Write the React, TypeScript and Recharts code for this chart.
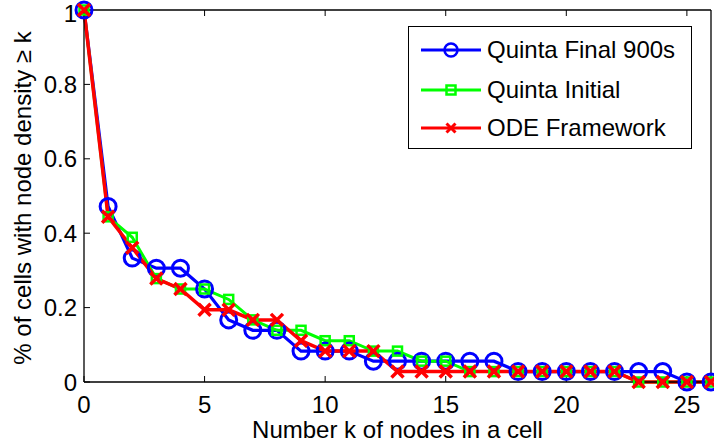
import React from 'react';
import { LineChart, Line, XAxis, YAxis, Legend, Label } from 'recharts';

const font = '"Liberation Sans", Arial, Helvetica, sans-serif';

// k values on the x axis
const kValues = [0, 1, 2, 3, 4, 5, 6, 7, 8, 9, 10, 11, 12, 13, 14, 15, 16, 17, 18, 19, 20, 21, 22, 23, 24, 25, 26];

const quintaFinal = [1, 0.472, 0.333, 0.306, 0.306, 0.25, 0.167, 0.139, 0.139, 0.083, 0.083, 0.083, 0.056, 0.056, 0.056, 0.056, 0.056, 0.056, 0.028, 0.028, 0.028, 0.028, 0.028, 0.028, 0.028, 0, 0];
const quintaInitial = [1, 0.444, 0.389, 0.278, 0.25, 0.25, 0.222, 0.167, 0.139, 0.139, 0.111, 0.111, 0.083, 0.083, 0.056, 0.056, 0.028, 0.028, 0.028, 0.028, 0.028, 0.028, 0.028, 0, 0, 0, 0];
const odeFramework = [1, 0.444, 0.361, 0.278, 0.25, 0.194, 0.194, 0.167, 0.167, 0.111, 0.083, 0.083, 0.083, 0.028, 0.028, 0.028, 0.028, 0.028, 0.028, 0.028, 0.028, 0.028, 0.028, 0, 0, 0, 0];

const xTicks = [0, 5, 10, 15, 20, 25];
const yTicks = [0, 0.2, 0.4, 0.6, 0.8, 1];

const seriesNames = ['Quinta Final 900s', 'Quinta Initial', 'ODE Framework'];
const BLUE = '#0000ff';
const GREEN = '#00ff00';
const RED = '#ff0000';

const rows = kValues.map((k, i) => ({
  k,
  final: quintaFinal[i],
  initial: quintaInitial[i],
  ode: odeFramework[i],
}));

const circleDot = (r: number, sw: number) => (p: any) => (
  <circle key={`c${p.index}`} cx={p.cx} cy={p.cy} r={r} fill="none" stroke={BLUE} strokeWidth={sw} />
);
const squareDot = (h: number, sw: number) => (p: any) => (
  <rect key={`s${p.index}`} x={p.cx - h} y={p.cy - h} width={h * 2} height={h * 2} fill="none" stroke={GREEN} strokeWidth={sw} />
);
const crossDot = (h: number, sw: number) => (p: any) => (
  <path key={`x${p.index}`} d={`M${p.cx - h},${p.cy - h}L${p.cx + h},${p.cy + h}M${p.cx - h},${p.cy + h}L${p.cx + h},${p.cy - h}`} stroke={RED} strokeWidth={sw} fill="none" />
);

const YLabel = (props: any) => {
  const vb = props.viewBox;
  const cx = 22;
  const cy = vb.y + vb.height / 2 + 2;
  return (
    <text x={cx} y={cy} transform={`rotate(-90, ${cx}, ${cy})`} textAnchor="middle" dominantBaseline="central" fontSize={24} fontFamily={font} fill="#000">
      % of cells with node density ≥ k
    </text>
  );
};

const legendMarks = [
  (cx: number, cy: number) => <circle cx={cx} cy={cy} r={6.5} fill="none" stroke={BLUE} strokeWidth={2.5} />,
  (cx: number, cy: number) => <rect x={cx - 4.5} y={cy - 4.5} width={9} height={9} fill="none" stroke={GREEN} strokeWidth={2.5} />,
  (cx: number, cy: number) => (
    <path d={`M${cx - 4.5},${cy - 4.5}L${cx + 4.5},${cy + 4.5}M${cx - 4.5},${cy + 4.5}L${cx + 4.5},${cy - 4.5}`} stroke={RED} strokeWidth={3} />
  ),
];
const legendColors = [BLUE, GREEN, RED];
const legendRowCenters = [23, 63, 101];

const renderLegend = () => (
  <div style={{ position: 'relative', width: 284, height: 123, border: '1.5px solid #000', background: '#fff', boxSizing: 'border-box', fontFamily: font }}>
    {seriesNames.map((name, i) => (
      <div key={name} style={{ position: 'absolute', left: 0, top: legendRowCenters[i] - 15, height: 30, width: 282 }}>
        <svg width={62} height={30} style={{ position: 'absolute', left: 11, top: 0 }}>
          <line x1={1} y1={15} x2={61} y2={15} stroke={legendColors[i]} strokeWidth={3} />
          {legendMarks[i](31, 15)}
        </svg>
        <span style={{ position: 'absolute', left: 78, top: 0, lineHeight: '30px', fontSize: 24, color: '#000', whiteSpace: 'nowrap' }}>{name}</span>
      </div>
    ))}
  </div>
);

const axisLine = { stroke: '#000', strokeWidth: 1.3 };
const tickLine = { stroke: '#000', strokeWidth: 1 };
const tickStyle = { fontSize: 24, fill: '#000', fontFamily: font };

export default function App() {
  return (
    <div style={{ position: 'absolute', left: 0, top: 0, width: 714, height: 447, background: '#fff', fontFamily: font }}>
      <LineChart width={714} height={447} data={rows} margin={{ top: 9, right: 2, bottom: 0, left: 0 }}>
        <XAxis
          dataKey="k"
          type="number"
          domain={[0, 26]}
          ticks={xTicks}
          height={65}
          tickSize={-6}
          tickMargin={20}
          axisLine={axisLine}
          tickLine={tickLine}
          tick={tickStyle}
        >
          <Label value="Number k of nodes in a cell" position="insideBottom" offset={9} fontSize={24} fill="#000" fontFamily={font} />
        </XAxis>
        <XAxis
          xAxisId="top"
          orientation="top"
          dataKey="k"
          type="number"
          domain={[0, 26]}
          ticks={xTicks}
          height={1}
          tickSize={-6}
          tickFormatter={() => ''}
          axisLine={axisLine}
          tickLine={tickLine}
        />
        <YAxis
          type="number"
          domain={[0, 1]}
          ticks={yTicks}
          width={84}
          tickSize={-6}
          tickMargin={13}
          axisLine={axisLine}
          tickLine={tickLine}
          tick={tickStyle}
          label={<YLabel />}
        />
        <YAxis
          yAxisId="right"
          orientation="right"
          type="number"
          domain={[0, 1]}
          ticks={yTicks}
          width={1}
          tickSize={-6}
          tickFormatter={() => ''}
          axisLine={axisLine}
          tickLine={tickLine}
        />
        <Legend content={renderLegend} layout="horizontal" verticalAlign="middle" align="center" wrapperStyle={{ left: 408, top: 26, width: 284, height: 123 }} />
        <Line dataKey="final" type="linear" stroke={BLUE} strokeWidth={3.2} dot={circleDot(8, 3)} activeDot={false} isAnimationActive={false} />
        <Line dataKey="initial" type="linear" stroke={GREEN} strokeWidth={3} dot={squareDot(4.5, 2.5)} activeDot={false} isAnimationActive={false} />
        <Line dataKey="ode" type="linear" stroke={RED} strokeWidth={3.5} dot={crossDot(6, 3.5)} activeDot={false} isAnimationActive={false} />
      </LineChart>
    </div>
  );
}
